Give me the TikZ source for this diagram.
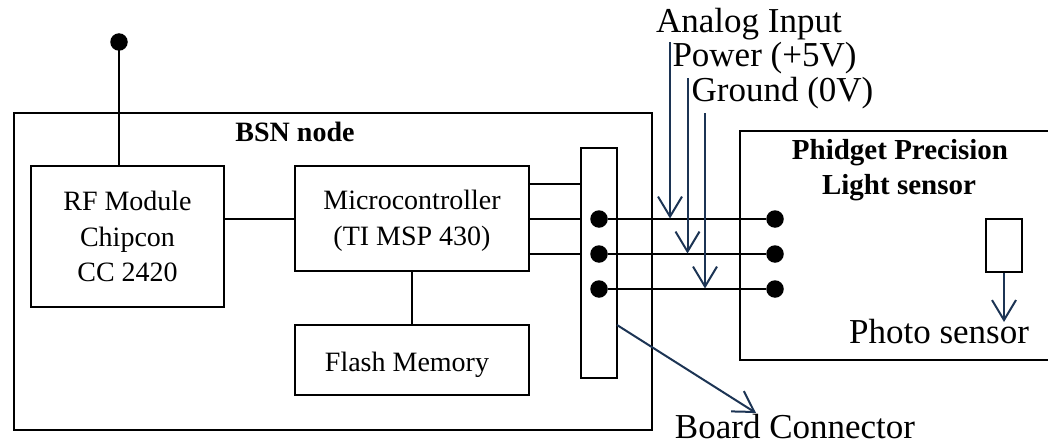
\documentclass[tikz,border=0pt]{standalone}
\usepackage{fontspec}
\setmainfont{Liberation Serif}
\usetikzlibrary{arrows.meta}
\definecolor{navy}{RGB}{28,52,84}
\tikzset{
  x=1pt,y=-1pt,
  wire/.style={line width=2.4pt,black},
  box/.style={draw=black,line width=2.4pt,fill=none,inner sep=0pt,align=center,font=\fontsize{28}{35.5}\selectfont},
  lbl/.style={inner sep=0pt,font=\fontsize{35}{40}\selectfont},
  blbl/.style={inner sep=0pt,font=\fontsize{29}{34}\selectfont\bfseries},
  dot/.style={circle,fill=black,draw=none,minimum size=17.5pt,inner sep=0pt},
  ptr/.style={line width=2pt,navy,-{Straight Barb[length=20pt,width=24pt,line width=2pt]}},
}
\begin{document}
\begin{tikzpicture}
\useasboundingbox (0,0) rectangle (1048,444);
% boxes
\node[box,minimum width=638pt,minimum height=317pt] (bsn) at (332.75,271.5) {};
\node[box,minimum width=193pt,minimum height=141pt] (rf) at (127.5,236.5) {RF Module\\Chipcon\\CC 2420};
\node[box,minimum width=234pt,minimum height=105pt] (mcu) at (412,218.5) {\rule{0pt}{24pt}Microcontroller\\(TI MSP 430)};
\node[box,minimum width=234pt,minimum height=70pt,text height=28pt,text depth=6pt] (flash) at (412,360) {\mbox{Flash Memory\hspace{10pt}}};
\node[box,minimum width=35.5pt,minimum height=230pt] (conn) at (599,263) {};
\node[box,minimum width=330pt,minimum height=229pt] (phid) at (905,245.5) {};
\node[box,minimum width=36pt,minimum height=53pt] (photo) at (1004,245.5) {};
% labels
\node[font=\fontsize{28}{34}\selectfont\bfseries,inner sep=0pt] (tbsn) at (295,132) {BSN node};
\node[blbl] (tphid) at (900,152.5) {Phidget Precision};
\node[blbl] (tlight) at (899,187.5) {Light sensor};
\node[lbl] (tanalog) at (749,24) {Analog Input};
\node[lbl] (tpower) at (764.5,58.5) {Power (+5V)};
\node[lbl] (tground) at (782.5,93.5) {Ground (0V)};
\node[lbl] (tsensor) at (939,332) {Photo sensor};
\node[lbl] (tboard) at (795,427) {Board Connector};
% dots
\node[dot] (ant) at (119,42) {};
\node[dot] (l1) at (599,219) {};
\node[dot] (l2) at (599,254) {};
\node[dot] (l3) at (599,289) {};
\node[dot] (r1) at (775,219) {};
\node[dot] (r2) at (775,254) {};
\node[dot] (r3) at (775,289) {};
% free ends
\coordinate (a1) at (670,42);
\coordinate (a2) at (670,218.5);
\coordinate (b1) at (687.5,78);
\coordinate (b2) at (687.5,253.5);
\coordinate (c1) at (705,113);
\coordinate (c2) at (705,288.5);
\coordinate (d1) at (617,325);
\coordinate (d2) at (756,413);
\coordinate (e2) at (1004,322);
% connectors
\draw[wire] (ant.center) -- (ant.center |- rf.north);
\draw[wire] (rf.east |- 0,219) -- (mcu.west |- 0,219);
\draw[wire] (flash.north) -- (mcu.south);
\draw[wire] (mcu.east |- 0,184) -- (conn.west |- 0,184);
\draw[wire] (mcu.east |- l1) -- (conn.west |- l1);
\draw[wire] (mcu.east |- l2) -- (conn.west |- l2);
\draw[wire] (l1) -- (r1);
\draw[wire] (l2) -- (r2);
\draw[wire] (l3) -- (r3);
% pointers
\draw[ptr] (a1) -- (a2);
\draw[ptr] (b1) -- (b2);
\draw[ptr] (c1) -- (c2);
\draw[ptr] (d1) -- (d2);
\draw[ptr] (photo.south) -- (e2);
\end{tikzpicture}
\end{document}
